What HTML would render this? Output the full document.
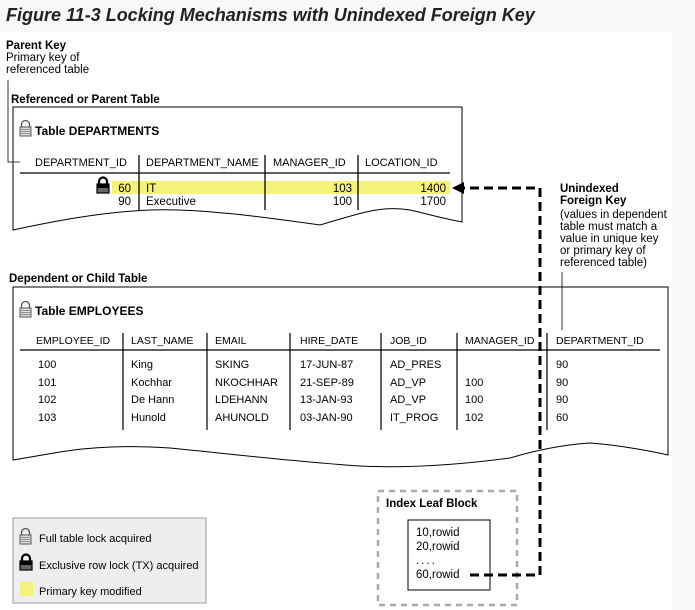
<!DOCTYPE html>
<html><head><meta charset="utf-8"><style>
html,body{margin:0;padding:0;background:#f7f7f7;}
svg{display:block;font-family:"Liberation Sans",Arial,sans-serif;}
</style></head><body>
<svg width="695" height="610" viewBox="0 0 695 610" xmlns="http://www.w3.org/2000/svg">
<defs>
<g id="tlock"><path d="M1.5 7 V4.5 A4 4 0 0 1 9.5 4.5 V7" fill="none" stroke="#555" stroke-width="1.3"/><rect x="0" y="7" width="11" height="9" fill="#ddd" stroke="#555" stroke-width="1"/><path d="M1 9.5h9M1 11.5h9M1 13.5h9" stroke="#777" stroke-width="0.8"/></g>
<g id="xlock"><path d="M2 7 V4.5 A4 4 0 0 1 10 4.5 V7" fill="none" stroke="#000" stroke-width="2.2"/><rect x="0" y="7" width="12" height="9" fill="#666" stroke="#000" stroke-width="1.2"/><rect x="0" y="7" width="12" height="4" fill="#000"/></g>
</defs>
<rect x="0" y="0" width="695" height="610" fill="#f8f8f8"/>
<rect x="0" y="32" width="672" height="578" fill="#fff"/>
<text x="6" y="21" font-size="18" font-weight="bold" font-style="italic" fill="#222">Figure 11-3 Locking Mechanisms with Unindexed Foreign Key</text>

<g font-size="11.5" fill="#000">
<text x="6" y="49" font-weight="bold">Parent Key</text>
<text x="6" y="61">Primary key of</text>
<text x="6" y="73">referenced table</text>
</g>
<text x="11" y="103" font-size="11.5" font-weight="bold">Referenced or Parent Table</text>

<!-- Departments box -->
<path d="M13 107 H462 V222 C440 218 420 212 410 210 C380 205 355 215 330 222 L320 225 C270 218 200 208 150 210 C100 212 50 222 13 230 Z" fill="#fff" stroke="#000" stroke-width="1"/>
<path d="M8 80 V162 H20" fill="none" stroke="#000" stroke-width="0.8"/>
<use href="#tlock" x="20" y="120"/>
<text x="35" y="135" font-size="12" font-weight="bold">Table DEPARTMENTS</text>
<g font-size="11">
<text x="35" y="166">DEPARTMENT_ID</text>
<text x="146" y="166">DEPARTMENT_NAME</text>
<text x="273" y="166">MANAGER_ID</text>
<text x="365" y="166">LOCATION_ID</text>
</g>
<line x1="20" y1="173" x2="450" y2="173" stroke="#000" stroke-width="1.3"/>
<rect x="112" y="181" width="338" height="13" fill="#f5f27a"/>
<g stroke="#000" stroke-width="1.3">
<line x1="139" y1="155" x2="139" y2="210"/><line x1="265" y1="155" x2="265" y2="210"/><line x1="358" y1="155" x2="358" y2="210"/>
</g>
<use href="#xlock" x="97" y="177"/>
<g font-size="11.5">
<text x="131" y="192" text-anchor="end">60</text><text x="146" y="192">IT</text><text x="352" y="192" text-anchor="end">103</text><text x="446" y="192" text-anchor="end">1400</text>
<text x="131" y="205" text-anchor="end">90</text><text x="146" y="205">Executive</text><text x="352" y="205" text-anchor="end">100</text><text x="446" y="205" text-anchor="end">1700</text>
</g>

<!-- Unindexed FK -->
<g font-size="11.5">
<text x="560" y="192" font-weight="bold">Unindexed</text>
<text x="560" y="204" font-weight="bold">Foreign Key</text>
<text x="560" y="218">(values in dependent</text>
<text x="560" y="230">table must match a</text>
<text x="560" y="242">value in unique key</text>
<text x="560" y="254">or primary key of</text>
<text x="560" y="266">referenced table)</text>
</g>

<text x="9" y="282" font-size="11.5" font-weight="bold">Dependent or Child Table</text>
<!-- Employees box -->
<path d="M13 287 H668 V455 C655 452 620 445 590 443 C560 445 530 452 510 458 C450 466 400 468 360 466 C300 462 240 455 170 448 C130 445 90 447 60 452 L13 460 Z" fill="#fff" stroke="#000" stroke-width="1"/>
<line x1="562" y1="272" x2="562" y2="330" stroke="#000" stroke-width="0.8"/>
<use href="#tlock" x="20" y="301"/>
<text x="35" y="315" font-size="12" font-weight="bold">Table EMPLOYEES</text>
<g font-size="10.5">
<text x="36" y="344">EMPLOYEE_ID</text><text x="131" y="344">LAST_NAME</text><text x="215" y="344">EMAIL</text><text x="300" y="344">HIRE_DATE</text><text x="390" y="344">JOB_ID</text><text x="465" y="344">MANAGER_ID</text><text x="556" y="344">DEPARTMENT_ID</text>
</g>
<line x1="20" y1="350" x2="660" y2="350" stroke="#000" stroke-width="1.3"/>
<g stroke="#000" stroke-width="1.2">
<line x1="123" y1="333" x2="123" y2="430"/><line x1="207" y1="333" x2="207" y2="430"/><line x1="290" y1="333" x2="290" y2="430"/><line x1="381" y1="333" x2="381" y2="430"/><line x1="457" y1="333" x2="457" y2="430"/><line x1="547" y1="333" x2="547" y2="430"/>
</g>
<g font-size="11">
<text x="38" y="368">100</text><text x="131" y="368">King</text><text x="215" y="368">SKING</text><text x="300" y="368">17-JUN-87</text><text x="390" y="368">AD_PRES</text><text x="556" y="368">90</text>
<text x="38" y="386">101</text><text x="131" y="386">Kochhar</text><text x="215" y="386">NKOCHHAR</text><text x="300" y="386">21-SEP-89</text><text x="390" y="386">AD_VP</text><text x="465" y="386">100</text><text x="556" y="386">90</text>
<text x="38" y="403">102</text><text x="131" y="403">De Hann</text><text x="215" y="403">LDEHANN</text><text x="300" y="403">13-JAN-93</text><text x="390" y="403">AD_VP</text><text x="465" y="403">100</text><text x="556" y="403">90</text>
<text x="38" y="421">103</text><text x="131" y="421">Hunold</text><text x="215" y="421">AHUNOLD</text><text x="300" y="421">03-JAN-90</text><text x="390" y="421">IT_PROG</text><text x="465" y="421">102</text><text x="556" y="421">60</text>
</g>

<!-- Index leaf block -->
<rect x="378" y="491" width="139" height="114" fill="#fff" stroke="#aaa" stroke-width="2.5" stroke-dasharray="6,5"/>
<text x="386" y="507" font-size="11.5" font-weight="bold">Index Leaf Block</text>
<rect x="408" y="520" width="82" height="70" fill="#fff" stroke="#000" stroke-width="1"/>
<g font-size="11.5"><text x="416" y="536">10,rowid</text><text x="416" y="550">20,rowid</text><text x="416" y="564" letter-spacing="2">....</text><text x="416" y="578">60,rowid</text></g>

<!-- dashed connector -->
<path d="M470 575 H540 V188 H462" fill="none" stroke="#000" stroke-width="3" stroke-dasharray="9,5"/>
<path d="M452 188 L464 182 L464 194 Z" fill="#000"/>

<!-- Legend -->
<rect x="13" y="518" width="193" height="85" fill="#eee" stroke="#999" stroke-width="1"/>
<use href="#tlock" x="20" y="528"/>
<text x="39" y="542" font-size="11">Full table lock acquired</text>
<use href="#xlock" x="20" y="554"/>
<text x="39" y="569" font-size="11">Exclusive row lock (TX) acquired</text>
<rect x="20" y="582" width="13" height="14" fill="#f5f27a"/>
<text x="39" y="595" font-size="11">Primary key modified</text>
</svg>
</body></html>
